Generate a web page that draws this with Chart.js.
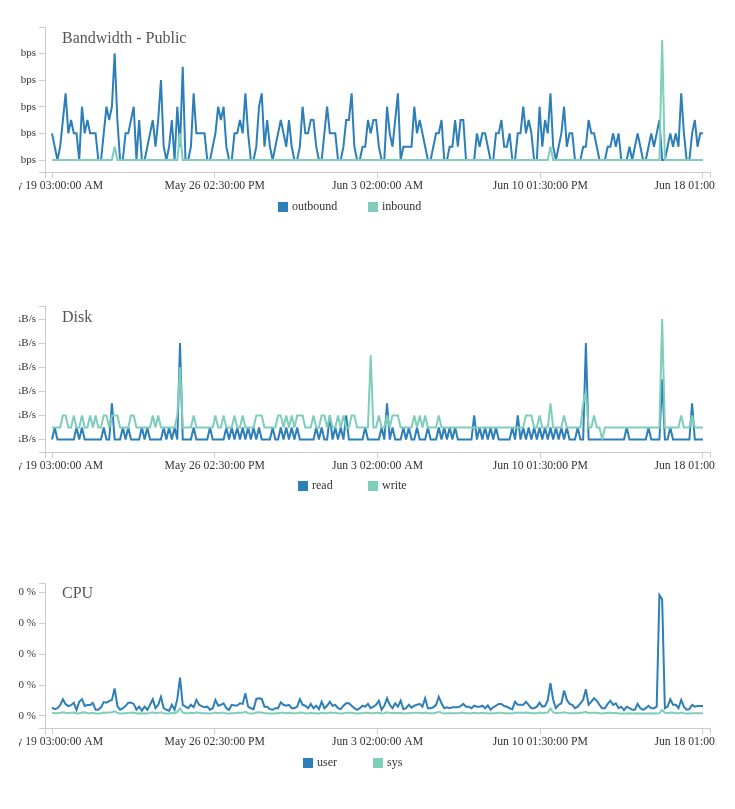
<!DOCTYPE html>
<html>
<head>
<meta charset="utf-8">
<script src="https://cdn.jsdelivr.net/npm/chart.js@4.4.1/dist/chart.umd.min.js"></script>
<style>
	body{ margin:0; background:#fff; }
	.panel{ position:absolute; left:19px; width:697px; height:230px; overflow:hidden; }
	.panel canvas{ position:absolute; left:-19px; top:0; }
</style>
</head>
<body>
<div class="panel" style="top:0px"><canvas id="bw_graph" width="735" height="230" style="width:735px;height:230px"></canvas></div>
<div class="panel" style="top:280px"><canvas id="disk_graph" width="735" height="230" style="width:735px;height:230px"></canvas></div>
<div class="panel" style="top:556px"><canvas id="cpu_graph" width="735" height="230" style="width:735px;height:230px"></canvas></div>
<script>

const xTickLabels = ['May 19 03:00:00 AM', 'May 26 02:30:00 PM', 'Jun 3 02:00:00 AM', 'Jun 10 01:30:00 PM', 'Jun 18 01:00:00 AM']

const bandwidthTicks = [0, 100, 200, 300, 400]
const diskTicks = [0, 1, 2, 3, 4, 5]
const cpuTicks = [0, 10, 20, 30, 40]

// bps, one point every 3 hours
const outbound = [
	100,50,0,50,150,250,100,150,100,100, 0,200,100,150,100,100,100,0,0,100,
	200,150,200,400,150,0,0,100,100,150, 200,0,150,0,0,50,100,150,50,150,
	300,50,0,50,150,0,200,50,350,0, 0,50,250,100,100,100,100,0,0,50,
	100,200,150,200,50,0,0,100,100,150, 100,250,100,0,0,50,200,250,50,150,
	50,0,50,100,150,100,50,150,50,0, 0,50,200,100,100,150,150,50,0,0,
	100,200,100,100,100,0,0,50,150,150, 250,50,0,0,50,50,150,100,150,150,
	50,0,0,200,100,50,150,250,0,50, 50,50,50,200,100,150,100,50,0,0,
	50,100,100,150,0,0,50,50,150,50, 150,150,0,0,0,0,100,50,100,100,
	50,0,0,100,100,150,50,50,100,0, 0,100,100,200,100,150,100,0,0,200,
	50,150,100,250,50,0,50,100,200,50, 100,100,0,0,0,50,50,150,100,100,
	50,0,0,0,50,50,100,50,100,0, 0,0,50,0,50,100,50,0,0,50,
	100,50,100,150,0,0,50,100,50,100, 50,250,100,0,0,100,150,50,100,100
]
const inbound = [
	0,0,0,0,0,0,0,0,0,0, 0,0,0,0,0,0,0,0,0,0,
	0,0,0,50,0,0,0,0,0,0, 0,0,0,0,0,0,0,0,0,0,
	0,0,0,0,0,0,0,100,0,0, 0,0,0,0,0,0,0,0,0,0,
	0,0,0,0,0,0,0,0,0,0, 0,0,0,0,0,0,0,0,0,0,
	0,0,0,0,0,0,0,0,0,0, 0,0,0,0,0,0,0,0,0,0,
	0,0,0,0,0,0,0,0,0,0, 0,0,0,0,0,0,0,0,0,0,
	0,0,0,0,0,0,0,0,0,0, 0,0,0,0,0,0,0,0,0,0,
	0,0,0,0,0,0,0,0,0,0, 0,0,0,0,0,0,0,0,0,0,
	0,0,0,0,0,0,0,0,0,0, 0,0,0,0,0,0,0,0,0,0,
	0,0,0,50,0,0,0,0,0,0, 0,0,0,0,0,0,0,0,0,0,
	0,0,0,0,0,0,0,0,0,0, 0,0,0,0,0,0,0,0,0,0,
	0,0,0,0,450,0,0,0,0,0, 0,0,0,0,0,0,0,0,0,0
]

// kB/s
const diskRead = [
	0,0.5,0,0,0,0,0,0,0,0.5, 0,0.5,0,0,0,0,0,0,0,0.5,
	0,0,1.5,0,0,0,0.5,0,0.5,0, 0,0,0,0.5,0,0.5,0,0,0,0,
	0,0.5,0,0.5,0,0.5,0,4,0,0, 0,0,0.5,0,0,0,0,0,0.5,0,
	0,0,0,0,0.5,0,0.5,0,0.5,0, 0.5,0,0.5,0,0.5,0,0.5,0,0,0,
	0,0.5,0,0,0.5,0,0.5,0,0.5,0, 0.5,0,0,0,0,0,0,0.5,0,0.5,
	0,0,1,0,0.5,0,0.5,0,1,0, 0,0,0,0,0,0.5,0,0,0,0,
	0,0.5,0,1.5,0,0.5,0,0,0,0.5, 0,0.5,0,0,0.5,0,0,0,0.5,0,
	0,0,0.5,0,0.5,0,0.5,0,0.5,0, 0,0,0,0,0,1,0,0.5,0,0.5,
	0,0.5,0,0.5,0,0,0,0,0,0.5, 0,1,0,0.5,0,0.5,0,0.5,0,0.5,
	0,0.5,0,0.5,0,0.5,0,0.5,0,0.5, 0,0,0,0.5,0,0,4,0,0,0,
	0,0,0,0,0,0,0,0,0,0, 0,0.5,0,0,0,0,0,0,0,0.5,
	0,0,0,0,2.5,0,0,0.5,0,0, 0,0,0,0,0,1.5,0,0,0,0
]
const diskWrite = [
	0.5,0.5,0.5,0.5,1,1,0.5,0.5,1,0.5, 0.5,1,0.5,0.5,1,0.5,1,0.5,0.5,1,
	1,0.5,1,1,1,0.5,0.5,0.5,0.5,1, 1,0.5,0.5,0.5,0.5,0.5,0.5,1,0.5,1,
	0.5,0.5,0.5,0.5,0.5,0.5,1,3,0.5,0.5, 0.5,0.5,1,0.5,0.5,0.5,0.5,0.5,0.5,0.5,
	1,0.5,0.5,1,0.5,0.5,0.5,1,0.5,0.5, 1,0.5,0.5,0.5,0.5,1,1,1,0.5,0.5,
	0.5,0.5,0.5,1,1,0.5,1,0.5,1,0.5, 1,1,1,0.5,0.5,0.5,1,0.5,0.5,1,
	1,0.5,1,0.5,0.5,1,0.5,1,0.5,0.5, 1,1,0.5,0.5,0.5,0.5,0.5,3.5,0.5,0.5,
	1,0.5,0.5,1,0.5,1,1,1,0.5,0.5, 0.5,0.5,0.5,1,0.5,1,0.5,1,0.5,0.5,
	0.5,0.5,1,0.5,0.5,0.5,0.5,0.5,0.5,0.5, 0.5,0.5,0.5,0.5,0.5,0.5,0.5,0.5,0.5,0.5,
	0.5,0.5,0.5,0.5,0.5,0.5,0.5,0.5,0.5,0.5, 0.5,0.5,0.5,0.5,1,1,1,0.5,0.5,1,
	0.5,0.5,0.5,1.5,0.5,0.5,0.5,0.5,1,0.5, 0.5,0.5,0.5,0.5,0.5,1.5,2,0.5,0.5,1,
	0.5,0.5,0,0.5,0.5,0.5,0.5,0.5,0.5,0.5, 0.5,0.5,0.5,0.5,0.5,0.5,0.5,0.5,0.5,0.5,
	0.5,0.5,0.5,0.5,5,0.5,0.5,0.5,0.5,0.5, 0.5,1,0.5,0.5,0.5,1,0.5,0.5,0.5,0.5
]

// %
const cpuUser = [
	2.7,2.2,2.5,3.5,5.4,3.8,3.2,3.5,4.3,1.9, 4.6,5.4,3.2,3.5,3.5,4.2,2.0,2.0,2.8,4.5,
	4.3,4.8,5.2,8.9,3.2,2.0,2.5,3.2,4.3,4.3, 3.9,2.0,3.0,1.7,3.0,2.0,3.6,5.4,2.5,3.6,
	6.2,2.5,2.0,1.7,3.6,2.0,5.4,12.4,3.6,3.0, 2.5,3.6,2.8,5.2,3.6,3.2,2.8,3.0,2.0,2.5,
	5.2,3.3,3.6,4.1,2.5,2.0,3.6,3.4,3.4,4.1, 3.9,7.3,3.0,2.5,2.2,5.5,5.7,5.5,3.0,3.0,
	2.2,2.0,2.5,2.5,4.4,3.6,3.3,3.6,2.5,2.5, 3.0,5.4,3.6,3.3,2.5,3.9,2.5,3.3,2.2,4.6,
	2.5,3.3,4.6,3.3,3.6,2.5,2.2,3.3,4.1,4.1, 3.3,2.5,2.0,2.5,3.3,3.0,3.9,2.5,3.0,3.6,
	4.9,2.0,3.3,5.7,3.6,2.5,4.1,3.0,4.9,2.2, 2.5,3.6,2.7,3.3,3.6,3.9,3.0,5.7,2.5,2.5,
	2.8,3.6,6.2,4.1,2.5,2.8,2.5,2.8,2.8,2.8, 3.2,3.9,3.0,3.0,2.5,3.3,3.0,3.0,3.3,2.5,
	3.4,2.0,2.8,3.3,3.9,3.9,3.2,3.0,2.5,2.2, 4.6,3.6,3.6,3.6,4.6,3.6,2.5,2.5,3.0,4.3,
	3.0,3.2,5.0,10.6,5.2,2.5,3.6,4.1,8.2,5.2, 3.9,3.6,2.5,3.0,4.1,5.2,8.6,3.6,4.6,5.7,
	4.9,3.6,2.5,2.5,3.9,4.9,3.6,4.1,2.5,3.0, 1.9,3.0,2.5,2.0,2.0,3.9,2.5,2.0,2.5,3.3,
	2.5,2.5,3.0,39.1,37.7,2.5,3.0,5.4,3.6,3.6, 2.5,5.2,3.0,2.0,2.2,3.6,3.0,3.2,3.2,3.2
]
const cpuSys = [
	1.0,0.9,0.9,1.0,1.2,1.0,0.9,1.0,1.1,0.8, 0.9,1.1,1.2,0.9,0.9,1.0,0.8,0.8,0.9,1.1,
	1.0,1.1,1.2,1.5,1.0,0.8,0.8,0.9,1.0,1.0, 1.1,0.8,0.9,0.8,0.9,0.8,1.0,1.2,0.9,1.0,
	1.2,0.9,0.8,0.8,1.0,0.8,1.3,2.4,1.1,0.9, 0.9,1.0,0.9,1.2,1.0,0.9,0.9,0.9,0.8,0.9,
	1.1,0.9,1.0,1.0,0.8,0.8,0.9,0.9,1.0,1.0, 1.0,1.3,0.9,0.8,0.8,1.1,1.2,1.1,0.9,0.9,
	0.8,0.8,0.9,0.9,1.0,1.0,0.9,1.0,0.9,0.9, 0.9,1.1,1.0,0.9,0.8,1.0,0.9,0.9,0.8,1.0,
	0.9,0.9,1.1,1.0,1.0,0.9,0.8,0.9,1.0,1.0, 1.0,0.9,0.8,0.9,0.9,1.0,1.0,0.9,0.9,1.0,
	1.0,0.8,0.9,1.2,1.0,0.9,1.0,0.9,1.0,0.8, 0.9,0.9,1.0,1.0,1.0,1.0,0.9,1.1,0.9,0.9,
	0.9,1.0,1.3,1.0,0.8,0.9,0.9,0.9,0.9,0.9, 1.0,1.0,0.9,0.9,0.9,1.0,0.9,0.9,1.0,0.9,
	0.9,0.8,0.9,0.9,1.0,1.0,0.9,0.9,0.9,0.8, 1.0,1.0,1.0,1.0,1.1,1.0,0.9,0.9,0.9,1.1,
	0.9,1.0,1.1,2.4,1.2,0.9,1.0,1.0,1.2,1.0, 0.9,0.9,0.9,0.9,1.0,1.1,1.3,0.9,1.0,1.0,
	1.0,0.9,0.8,0.9,1.0,1.0,0.9,1.0,0.8,0.8, 0.8,0.8,0.9,0.8,0.8,0.9,0.8,0.8,0.8,0.9,
	0.8,0.9,0.8,0.9,1.9,1.0,0.9,1.1,1.0,0.9, 0.9,1.1,0.9,0.8,0.8,0.9,0.9,0.9,0.9,0.9
]


const BLUE = '#2c7fb8'
const GREEN = '#7fcdbb'
const AXIS = '#cccccc'
const TEXT = '#333333'
const FONT = '"Liberation Serif", "Times New Roman", serif'


function points(values){
	return values.map((v, i) => ({ x:i, y:v }))
}


// svg-like miter limit so sharp spikes don't overshoot the baseline
const miter = {
	id:'miter',
	beforeDatasetsDraw(chart){
		chart.ctx.miterLimit = 4
	}
}

const innerTitle = {
	id:'innerTitle',
	afterDraw(chart, args, opts){
		const { ctx, chartArea } = chart
		ctx.save()
		ctx.font = '16px ' + FONT
		ctx.fillStyle = '#555555'
		ctx.textBaseline = 'alphabetic'
		ctx.fillText(opts.text, chartArea.left + 17, chartArea.top + opts.dy)
		ctx.restore()
	}
}

const bottomLegend = {
	id:'bottomLegend',
	afterDraw(chart, args, opts){
		const ctx = chart.ctx
		ctx.save()
		ctx.font = '12px ' + FONT
		ctx.textBaseline = 'middle'
		chart.data.datasets.forEach((ds, k) => {
			const x = opts.x[k]
			ctx.fillStyle = ds.borderColor
			ctx.fillRect(x, opts.y - 5, 10, 10)
			ctx.fillStyle = TEXT
			ctx.fillText(ds.label, x + 14, opts.y)
		})
		ctx.restore()
	}
}


function makeChart(id, { title, titleDy, top, series, yMin, yMax, yTicks, unit, legendX, legendY }){
	const last = series[0].data.length - 1
	const xTickPos = xTickLabels.map((_, k) => last * k / (xTickLabels.length - 1))
	const pad = 2.57

	return new Chart(document.getElementById(id), {
		type:'line',
		data:{
			datasets:series.map((s, k) => ({
				label:s.label,
				data:points(s.data),
				borderColor:s.color,
				backgroundColor:s.color,
				borderWidth:2,
				borderJoinStyle:'miter',
				pointRadius:0,
				tension:0,
				fill:false,
				order:series.length - 1 - k
			}))
		},
		options:{
			responsive:false,
			animation:false,
			devicePixelRatio:1,
			events:[],
			layout:{ padding:{ top, right:25, left:0, bottom:0 } },
			plugins:{
				legend:{ display:false },
				tooltip:{ enabled:false },
				innerTitle:{ text:title, dy:titleDy },
				bottomLegend:{ x:legendX, y:legendY }
			},
			scales:{
				x:{
					type:'linear',
					min:-pad,
					max:last + pad,
					afterBuildTicks:scale => {
						scale.ticks = [-pad, ...xTickPos, last + pad].map(value => ({ value }))
					},
					afterFit:scale => {
						scale.height = 58
						scale.paddingLeft = 0
						scale.paddingRight = 0
					},
					grid:{ drawOnChartArea:false, drawTicks:true, tickLength:6, color:AXIS },
					border:{ display:true, color:AXIS },
					ticks:{
						autoSkip:false,
						maxRotation:0,
						minRotation:0,
						padding:1,
						color:TEXT,
						font:{ family:FONT, size:11.7 },
						callback:(value, index, ticks) => (index === 0 || index === ticks.length - 1) ? '' : xTickLabels[index - 1]
					}
				},
				y:{
					type:'linear',
					min:yMin,
					max:yMax,
					afterBuildTicks:scale => {
						scale.ticks = [yMin, ...yTicks, yMax].map(value => ({ value }))
					},
					afterFit:scale => {
						scale.width = 45
						scale.paddingTop = 0
						scale.paddingBottom = 0
					},
					grid:{ drawOnChartArea:false, drawTicks:true, tickLength:6, color:AXIS },
					border:{ display:true, color:AXIS },
					ticks:{
						autoSkip:false,
						padding:3,
						color:TEXT,
						font:{ family:FONT, size:11 },
						callback:(value, index, ticks) => (index === 0 || index === ticks.length - 1) ? '' : yTicks[index - 1] + ' ' + unit
					}
				}
			}
		},
		plugins:[miter, innerTitle, bottomLegend]
	})
}


makeChart('bw_graph', {
	title:'Bandwidth - Public', titleDy:16, top:27,
	series:[
		{ label:'outbound', data:outbound, color:BLUE },
		{ label:'inbound', data:inbound, color:GREEN }
	],
	yMin:-45, yMax:499, yTicks:bandwidthTicks, unit:'bps',
	legendX:[278, 368], legendY:207
})

makeChart('disk_graph', {
	title:'Disk', titleDy:16, top:26,
	series:[
		{ label:'read', data:diskRead, color:BLUE },
		{ label:'write', data:diskWrite, color:GREEN }
	],
	yMin:-0.515, yMax:5.54, yTicks:diskTicks, unit:'kB/s',
	legendX:[298, 368], legendY:206
})

makeChart('cpu_graph', {
	title:'CPU', titleDy:15, top:27,
	series:[
		{ label:'user', data:cpuUser, color:BLUE },
		{ label:'sys', data:cpuSys, color:GREEN }
	],
	yMin:-3.9, yMax:43, yTicks:cpuTicks, unit:'%',
	legendX:[303, 373], legendY:207
})

</script>
</body>
</html>
